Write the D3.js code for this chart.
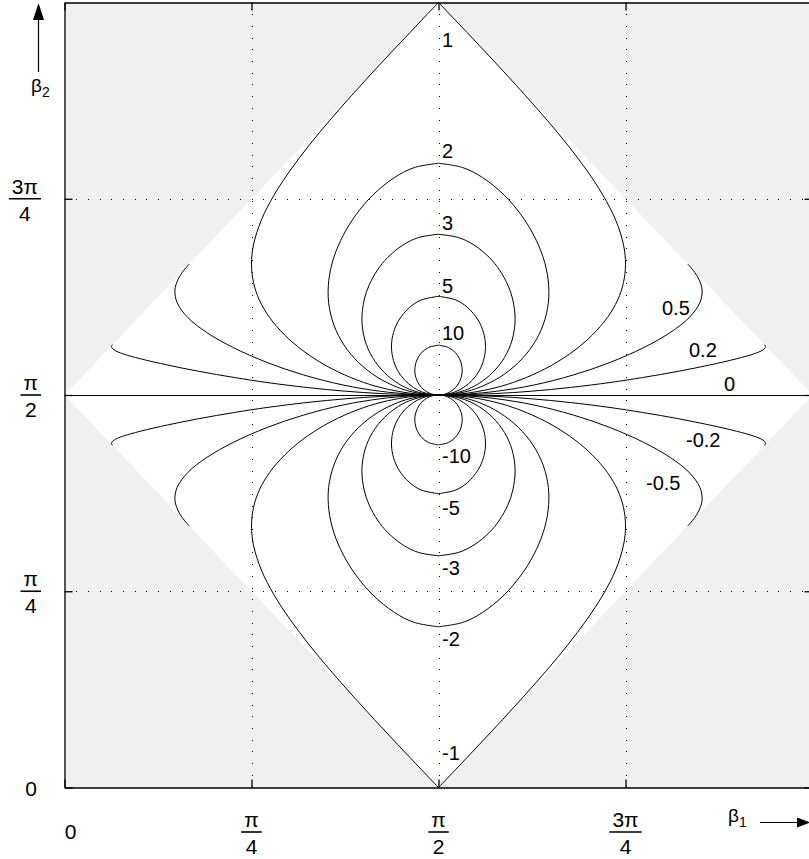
<!DOCTYPE html>
<html>
<head>
<meta charset="utf-8">
<script src="https://cdn.jsdelivr.net/npm/d3@7"></script>
<style>
body { margin: 0; background: #fff; }
text { font-family: "Liberation Sans", Arial, Helvetica, sans-serif; fill: #000; }
</style>
</head>
<body>
<div id="chart"></div>
<script>
// all angles are given in units of pi
var tickVals = [0, 0.25, 0.5, 0.75];
var tickNum = ["0", "\u03c0", "\u03c0", "3\u03c0"];
var tickDen = [null, "4", "2", "4"];

// upper-left quarter of every contour, [beta1, beta2],
// running from the top (or the domain edge) down to the centre
var c10 = [[0.5,0.5635],[0.4867,0.5605],[0.4776,0.5541],[0.4711,0.5446],[0.4683,0.5318],[0.4697,0.5223],[0.4745,0.5127],[0.4809,0.5064],[0.4875,0.5025],[0.4936,0.5006],[0.5,0.5]];
var c5 = [[0.5,0.6257],[0.4768,0.6210],[0.4611,0.6114],[0.4471,0.5955],[0.4398,0.5796],[0.4372,0.5637],[0.4388,0.5477],[0.4450,0.5318],[0.4546,0.5191],[0.4665,0.5096],[0.4783,0.5038],[0.4890,0.5010],[0.5,0.5]];
var c3 = [[0.5,0.7048],[0.4731,0.7005],[0.4524,0.6910],[0.4320,0.6751],[0.4184,0.6592],[0.4073,0.6401],[0.4006,0.6210],[0.3976,0.5955],[0.4016,0.5700],[0.4118,0.5478],[0.4275,0.5287],[0.4467,0.5143],[0.4656,0.5057],[0.4836,0.5013],[0.5,0.5]];
var c2 = [[0.5,0.7952],[0.4676,0.7897],[0.4409,0.7769],[0.4122,0.7547],[0.3894,0.7292],[0.3728,0.7037],[0.3600,0.6751],[0.3534,0.6464],[0.3531,0.6178],[0.3602,0.5891],[0.3737,0.5637],[0.3931,0.5414],[0.4187,0.5223],[0.4457,0.5096],[0.4653,0.5038],[0.4826,0.5010],[0.5,0.5]];
var c1 = [[0.5,1.0],[0.4775,0.9775],[0.4458,0.9456],[0.4146,0.9138],[0.3842,0.8820],[0.3548,0.8501],[0.3272,0.8183],[0.3020,0.7865],[0.2802,0.7547],[0.2631,0.7228],[0.2526,0.6910],[0.25,0.6667],[0.2527,0.6432],[0.2605,0.6210],[0.2742,0.5987],[0.2944,0.5764],[0.3176,0.5573],[0.3481,0.5382],[0.3826,0.5223],[0.4163,0.5111],[0.4469,0.5045],[0.4734,0.5011],[0.5,0.5]];
var c05 = [[0.1667,0.6667],[0.1655,0.6655],[0.1626,0.6623],[0.1573,0.6560],[0.1514,0.6464],[0.1476,0.6337],[0.1505,0.6178],[0.1648,0.5987],[0.1902,0.5796],[0.2254,0.5605],[0.2709,0.5414],[0.3198,0.5255],[0.3725,0.5127],[0.4220,0.5048],[0.4597,0.5013],[0.4799,0.5003],[0.5,0.5]];
var c02 = [[0.0641,0.5641],[0.0635,0.5633],[0.0629,0.5621],[0.0631,0.5605],[0.0665,0.5573],[0.0781,0.5525],[0.1013,0.5462],[0.1376,0.5382],[0.1794,0.5302],[0.2269,0.5223],[0.2708,0.5159],[0.3238,0.5096],[0.3761,0.5048],[0.4219,0.5019],[0.4610,0.5005],[0.5,0.5]];

var levels = [10, 5, 3, 2, 1, 0.5, 0.2];
var quarters = [c10, c5, c3, c2, c1, c05, c02];
var zeroLine = [[0, 0.5], [1, 0.5]];
var region = [[0.5, 1], [0, 0.5], [0.5, 0], [1, 0.5]];

// contour labels and where they sit
var labelText = ["1", "2", "3", "5", "10", "0.5", "0.2", "0", "-0.2", "-0.5", "-10", "-5", "-3", "-2", "-1"];
var labelAt = [[0.5047,0.9433],[0.5047,0.8019],[0.5047,0.7102],[0.5047,0.6299],[0.5047,0.5701],
               [0.7988,0.6019],[0.8349,0.5484],[0.8817,0.5051],[0.8309,0.4338],[0.7774,0.3790],
               [0.5047,0.4134],[0.5047,0.3471],[0.5047,0.2707],[0.5047,0.1803],[0.5047,0.0350]];

var W = 809, H = 859;
var margin = {left: 64.5, top: 2.5};
var pw = 748, ph = 785;

var svg = d3.select("#chart").append("svg")
	.attr("width", W)
	.attr("height", H);

var x = d3.scaleLinear().domain([0, 1]).range([margin.left, margin.left + pw]);
var y = d3.scaleLinear().domain([0, 1]).range([margin.top + ph, margin.top]);

// background and the admissible (white) region
svg.append("rect")
	.attr("x", x(0)).attr("y", y(1))
	.attr("width", pw).attr("height", ph)
	.attr("fill", "#f0f0f0");
svg.append("path")
	.attr("d", "M" + region.map(function(d) { return x(d[0]) + "," + y(d[1]); }).join("L") + "Z")
	.attr("fill", "#fff");

// dotted grid
var grid = svg.append("g").attr("class", "grid")
	.attr("stroke", "#000").attr("stroke-width", 1)
	.attr("stroke-dasharray", "1,10.7")
	.attr("shape-rendering", "crispEdges");
[0.25, 0.5, 0.75].forEach(function(v) {
	grid.append("line")
		.attr("x1", Math.round(x(v)) + 0.5).attr("x2", Math.round(x(v)) + 0.5)
		.attr("y1", y(1)).attr("y2", y(0));
	grid.append("line")
		.attr("x1", x(0)).attr("x2", x(1))
		.attr("y1", Math.round(y(v)) + 0.5).attr("y2", Math.round(y(v)) + 0.5);
});

// contours: mirror the quarter left-right, then up-down for the negative levels
var line = d3.line()
	.x(function(d) { return x(d[0]); })
	.y(function(d) { return y(d[1]); })
	.curve(d3.curveCatmullRom.alpha(0.5));

var curves = svg.append("g").attr("class", "contours")
	.attr("fill", "none").attr("stroke", "#000").attr("stroke-width", 1);

quarters.forEach(function(q, i) {
	var upper = q.concat(q.slice(0, -1).reverse().map(function(d) { return [1 - d[0], d[1]]; }));
	var lower = upper.map(function(d) { return [d[0], 1 - d[1]]; });
	curves.append("path").datum(upper).attr("class", "level" + levels[i]).attr("d", line);
	curves.append("path").datum(lower).attr("class", "level-" + levels[i]).attr("d", line);
});
curves.append("path").datum(zeroLine).attr("d", d3.line()
	.x(function(d) { return x(d[0]); })
	.y(function(d) { return Math.round(y(d[1])) + 0.5; }));

// contour labels
svg.append("g").selectAll("text")
	.data(labelText)
	.enter().append("text")
	.attr("x", function(d, i) { return x(labelAt[i][0]); })
	.attr("y", function(d, i) { return y(labelAt[i][1]); })
	.attr("font-size", 20)
	.text(function(d) { return d; });

// frame and inward ticks
var frame = svg.append("g").attr("class", "frame");
frame.append("g").attr("transform", "translate(0," + y(0) + ")")
	.call(d3.axisBottom(x).tickValues(tickVals).tickSize(-8).tickSizeOuter(0).tickFormat(""));
frame.append("g").attr("transform", "translate(0," + y(1) + ")")
	.call(d3.axisTop(x).tickValues(tickVals).tickSize(-8).tickSizeOuter(0).tickFormat(""));
frame.append("g").attr("transform", "translate(" + x(0) + ",0)")
	.call(d3.axisLeft(y).tickValues(tickVals).tickSize(-8).tickSizeOuter(0).tickFormat(""));
frame.append("g").attr("transform", "translate(" + x(1) + ",0)")
	.call(d3.axisRight(y).tickValues(tickVals).tickSize(-8).tickSizeOuter(0).tickFormat(""));
frame.selectAll("path, line").attr("stroke", "#000").attr("stroke-width", 1.3);

// fraction tick labels
function fraction(g, num, den, cx, barY, fs) {
	var n = g.append("text").attr("x", cx).attr("y", barY - 5)
		.attr("text-anchor", "middle").attr("font-size", fs).text(num);
	var dn = g.append("text").attr("x", cx).attr("y", barY + 22)
		.attr("text-anchor", "middle").attr("font-size", fs).text(den);
	var w = Math.max(n.node().getComputedTextLength(), dn.node().getComputedTextLength()) + 6;
	g.append("line")
		.attr("x1", cx - w / 2).attr("x2", cx + w / 2)
		.attr("y1", barY).attr("y2", barY)
		.attr("stroke", "#000").attr("stroke-width", 1.6);
}

var xl = svg.append("g").attr("class", "xlabels");
tickVals.forEach(function(v, i) {
	if (tickDen[i] === null) {
		xl.append("text").attr("x", x(v) + 6).attr("y", 839)
			.attr("text-anchor", "middle").attr("font-size", 21).text(tickNum[i]);
	} else {
		fraction(xl, tickNum[i], tickDen[i], x(v), 832, 21);
	}
});

var yl = svg.append("g").attr("class", "ylabels");
tickVals.forEach(function(v, i) {
	if (tickDen[i] === null) {
		yl.append("text").attr("x", 37).attr("y", y(v) + 8)
			.attr("text-anchor", "end").attr("font-size", 21).text(tickNum[i]);
	} else {
		// measure first so the bars end at the same right edge
		var tmp = yl.append("text").attr("font-size", 21).text(tickNum[i]);
		var w = tmp.node().getComputedTextLength() + 6;
		tmp.remove();
		fraction(yl, tickNum[i], tickDen[i], 41 - w / 2, y(v), 21);
	}
});

// axis names with arrows
var ax = svg.append("g").attr("class", "axisnames");
var b1 = ax.append("text").attr("x", 728).attr("y", 822).attr("font-size", 19);
b1.append("tspan").text("\u03b2");
b1.append("tspan").attr("font-size", 14).attr("dy", 5).text("1");
ax.append("line").attr("x1", 760).attr("x2", 798).attr("y1", 822.5).attr("y2", 822.5)
	.attr("stroke", "#000").attr("stroke-width", 1.2);
ax.append("path").attr("d", "M797,817.5L810,822.5L797,827.5Z").attr("fill", "#000");

var b2 = ax.append("text").attr("x", 31).attr("y", 92).attr("font-size", 19);
b2.append("tspan").text("\u03b2");
b2.append("tspan").attr("font-size", 14).attr("dy", 5).text("2");
ax.append("line").attr("x1", 38.5).attr("x2", 38.5).attr("y1", 19).attr("y2", 72)
	.attr("stroke", "#000").attr("stroke-width", 1.2);
ax.append("path").attr("d", "M33,20L38.5,3L44,20Z").attr("fill", "#000");
</script>
</body>
</html>
